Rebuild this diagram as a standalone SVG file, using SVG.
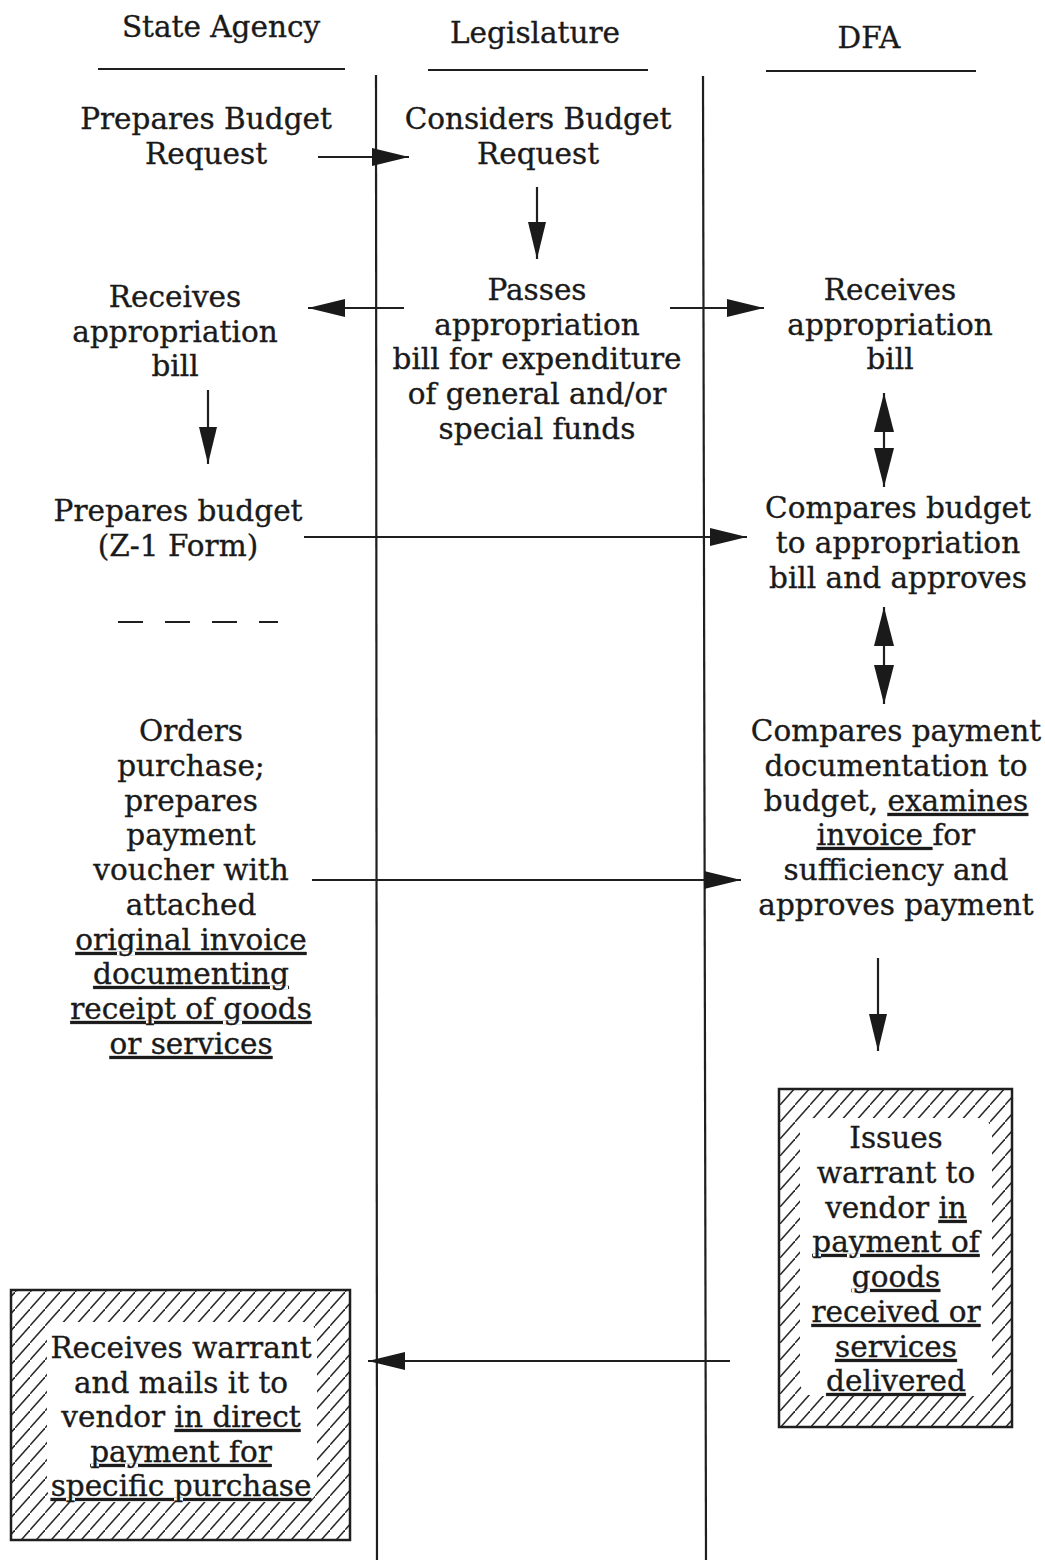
<svg xmlns="http://www.w3.org/2000/svg" width="1045" height="1560" viewBox="0 0 1045 1560">
<style>
text{font-family:"DejaVu Serif","Liberation Serif",serif;font-size:29.5px;fill:#1a1a1a;stroke:#1a1a1a;stroke-width:0.35;text-anchor:middle}
.u{text-decoration:underline}
.ln{stroke:#1f1f1f;stroke-width:2.2;fill:none}
.ar{stroke:#1f1f1f;stroke-width:2.2;fill:none;marker-end:url(#ah)}
.dar{stroke:#1f1f1f;stroke-width:2.2;fill:none;marker-end:url(#ah2);marker-start:url(#ah2)}
.box{fill:url(#hatch);stroke:#1f1f1f;stroke-width:2.5}
</style>
<defs>
<marker id="ah" markerUnits="userSpaceOnUse" markerWidth="38" markerHeight="20" refX="37" refY="9" orient="auto" viewBox="0 0 38 20">
<path d="M0,0 L37,9 L0,18 z" fill="#1a1a1a"/>
</marker>
<marker id="ah2" markerUnits="userSpaceOnUse" markerWidth="40" markerHeight="22" refX="39" refY="10" orient="auto-start-reverse" viewBox="0 0 40 22">
<path d="M0,0 L39,10 L0,20 z" fill="#1a1a1a"/>
</marker>
<pattern id="hatch" patternUnits="userSpaceOnUse" width="15" height="17">
<rect width="15" height="17" fill="#fff"/>
<path d="M-1,18.1 L16,-1.1" stroke="#2a2a2a" stroke-width="1.5"/>
</pattern>
</defs>
<rect width="1045" height="1560" fill="#fff"/>

<g id="headers">
<text x="221" y="37">State Agency</text>
<line class="ln" x1="98" y1="69" x2="345" y2="69"/>
<text x="535" y="43">Legislature</text>
<line class="ln" x1="428" y1="70" x2="648" y2="70"/>
<text x="869" y="48">DFA</text>
<line class="ln" x1="766" y1="71" x2="976" y2="71"/>
</g>

<g id="lanes">
<line class="ln" x1="376" y1="75" x2="377" y2="1560"/>
<line class="ln" x1="703" y1="76" x2="706" y2="1560"/>
</g>

<g id="n-prepares-request">
<text x="206" y="129">Prepares Budget</text>
<text x="206" y="164">Request</text>
</g>
<g id="n-considers">
<text x="538" y="129">Considers Budget</text>
<text x="538" y="164">Request</text>
</g>
<g id="n-receives-sa">
<text x="175" y="307">Receives</text>
<text x="175" y="342">appropriation</text>
<text x="175" y="376">bill</text>
</g>
<g id="n-passes">
<text x="537" y="300">Passes</text>
<text x="537" y="335">appropriation</text>
<text x="537" y="369">bill for expenditure</text>
<text x="537" y="404">of general and/or</text>
<text x="537" y="439">special funds</text>
</g>
<g id="n-receives-dfa">
<text x="890" y="300">Receives</text>
<text x="890" y="335">appropriation</text>
<text x="890" y="369">bill</text>
</g>
<g id="n-prepares-budget">
<text x="178" y="521">Prepares budget</text>
<text x="178" y="556">(Z-1 Form)</text>
</g>
<g id="n-compares-budget">
<text x="898" y="518">Compares budget</text>
<text x="898" y="553">to appropriation</text>
<text x="898" y="588">bill and approves</text>
</g>
<g id="n-orders">
<text x="191" y="741">Orders</text>
<text x="191" y="776">purchase;</text>
<text x="191" y="811">prepares</text>
<text x="191" y="845">payment</text>
<text x="191" y="880">voucher with</text>
<text x="191" y="915">attached</text>
<text x="191" y="950" class="u">original invoice</text>
<text x="191" y="984" class="u">documenting</text>
<text x="191" y="1019" class="u">receipt of goods</text>
<text x="191" y="1054" class="u">or services</text>
</g>
<g id="n-compares-payment">
<text x="896" y="741">Compares payment</text>
<text x="896" y="776">documentation to</text>
<text x="896" y="811">budget, <tspan class="u">examines</tspan></text>
<text x="896" y="845" xml:space="preserve"><tspan class="u">invoice </tspan>for</text>
<text x="896" y="880">sufficiency and</text>
<text x="896" y="915">approves payment</text>
</g>
<g id="n-issues">
<rect class="box" x="779" y="1089" width="233" height="338"/>
<rect x="800" y="1118" width="192" height="278" rx="14" fill="#fff"/>
<text x="896" y="1148">Issues</text>
<text x="896" y="1183">warrant to</text>
<text x="896" y="1218">vendor <tspan class="u">in</tspan></text>
<text x="896" y="1252" class="u">payment of</text>
<text x="896" y="1287" class="u">goods</text>
<text x="896" y="1322" class="u">received or</text>
<text x="896" y="1357" class="u">services</text>
<text x="896" y="1391" class="u">delivered</text>
</g>
<g id="n-receives-warrant">
<rect class="box" x="11" y="1290" width="339" height="250"/>
<rect x="47" y="1322" width="270" height="180" rx="14" fill="#fff"/>
<text x="181" y="1358">Receives warrant</text>
<text x="181" y="1393">and mails it to</text>
<text x="181" y="1427">vendor <tspan class="u">in direct</tspan></text>
<text x="181" y="1462" class="u">payment for</text>
<text x="181" y="1496" class="u">specific purchase</text>
</g>
<g id="separator">
<line class="ln" x1="118" y1="622" x2="278" y2="622" stroke-dasharray="25 22"/>
</g>

<g id="connectors">
<line class="ar" x1="318" y1="157" x2="409" y2="157"/>
<line class="ar" x1="537" y1="187" x2="537" y2="259"/>
<line class="ar" x1="404" y1="308" x2="308" y2="308"/>
<line class="ar" x1="670" y1="308" x2="764" y2="308"/>
<line class="ar" x1="208" y1="390" x2="208" y2="464"/>
<line class="dar" x1="884" y1="393" x2="884" y2="487"/>
<line class="ar" x1="304" y1="537" x2="747" y2="537"/>
<line class="dar" x1="884" y1="607" x2="884" y2="704"/>
<line class="ar" x1="312" y1="880" x2="741" y2="880"/>
<line class="ar" x1="878" y1="958" x2="878" y2="1051"/>
<line class="ar" x1="730" y1="1361" x2="368" y2="1361"/>
</g>
</svg>
